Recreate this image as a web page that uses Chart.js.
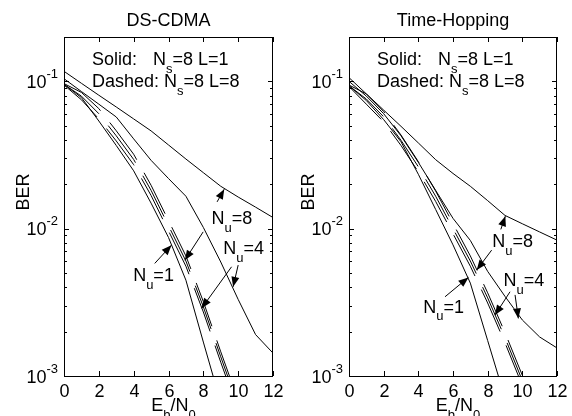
<!DOCTYPE html>
<html>
<head>
<meta charset="utf-8">
<script src="https://cdn.jsdelivr.net/npm/chart.js"></script>
<style>
  body { margin: 0; background: #fff; }
  #wrap { position: relative; width: 572px; height: 416px; background: #fff; }
  canvas { position: absolute; top: 0; }
</style>
</head>
<body>
<div id="wrap">
  <canvas id="dscdma" width="286" height="416" style="left:0px"></canvas>
  <canvas id="th" width="286" height="416" style="left:286px"></canvas>
</div>
<script>
// Eb/N0 grid (dB) and axis ticks
const ebn0 = [0, 1, 2, 3, 4, 5, 6, 7, 8, 9, 10, 11, 12];
const xTicks = [0, 2, 4, 6, 8, 10, 12];
const yDecades = [1e-3, 1e-2, 1e-1];
const yTickExp = ['-3', '-2', '-1'];

// DS-CDMA, solid = L=1, dashed = L=8
const dsNu8L1 = [0.117, 0.0970, 0.0805, 0.0670, 0.0556, 0.0461, 0.0370, 0.0297, 0.0240, 0.0194, 0.0164, 0.0140, 0.0119];
const dsNu4L1 = [0.1042, 0.0853, 0.0700, 0.0573, 0.0407, 0.0291, 0.0219, 0.0166, 0.0102, 0.00594, 0.00331, 0.00191, 0.00143];
const dsNu1L1 = [0.0955, 0.0776, 0.0538, 0.0367, 0.0247, 0.0149, 0.00871, 0.00447, 0.00170, 0.00066];
const dsNu1L8 = [0.0944, 0.0750, 0.0556, 0.0394, 0.0272, 0.0168, 0.00966, 0.00556, 0.00272, 0.00124, 0.000582];
const dsNu4L8 = [0.0955, 0.0794, 0.0603, 0.0427, 0.0295, 0.0182, 0.01047, 0.00603, 0.00295, 0.00135, 0.00063];
const dsNu8L8 = [0.0966, 0.0841, 0.0653, 0.0462, 0.0320, 0.0197, 0.01135, 0.00653, 0.00320, 0.00146, 0.000684];

// Time-Hopping
const thNu8L1 = [0.106, 0.0822, 0.0638, 0.0495, 0.0382, 0.0294, 0.0237, 0.0194, 0.0155, 0.0123, 0.0108, 0.0095, 0.00836];
const thNu4L1 = [0.100, 0.0794, 0.0603, 0.0427, 0.0282, 0.0182, 0.01175, 0.00832, 0.00513, 0.00347, 0.00240, 0.00184, 0.00155];
const thNu1L1 = [0.0933, 0.0741, 0.0550, 0.0389, 0.0234, 0.0135, 0.00776, 0.00427, 0.00174, 0.00071];
const thNu1L8 = [0.0923, 0.0700, 0.0531, 0.0367, 0.0243, 0.0153, 0.00923, 0.00556, 0.00313, 0.00168, 0.000861];
const thNu4L8 = [0.0933, 0.0759, 0.0575, 0.0398, 0.0263, 0.0166, 0.0100, 0.00603, 0.00339, 0.00182, 0.00093];
const thNu8L8 = [0.0944, 0.0822, 0.0624, 0.0432, 0.0285, 0.0180, 0.01084, 0.00653, 0.00367, 0.00197, 0.00101];

// annotation anchors in data units: [x, BER]
const dsLabels = [['8', 8.47, 0.01074], ['4', 9.14, 0.00671], ['1', 3.97, 0.00441]];
const dsArrows = [[8.79, 0.0152, 9.2, 0.01854], [7.99, 0.00951, 6.94, 0.00611],
                  [10.0, 0.00566, 9.71, 0.00403], [9.62, 0.00551, 7.9, 0.00288],
                  [5.21, 0.00581, 6.17, 0.00773]];
const thLabels = [['8', 8.27, 0.00746], ['4', 8.91, 0.00407], ['1', 4.29, 0.00269]];
const thArrows = [[8.76, 0.00989, 9.02, 0.01216], [8.23, 0.00715, 7.37, 0.00524],
                  [9.58, 0.00355, 9.77, 0.00246], [9.29, 0.00373, 8.42, 0.00259],
                  [5.54, 0.00345, 6.89, 0.00467]];

const FONT = '"Liberation Sans", Arial, Helvetica, sans-serif';

function pts(ys) {
  return ys.map((v, i) => ({ x: ebn0[i], y: v }));
}

function rich(ctx, parts, x, y, align) {
  let w = 0;
  parts.forEach(p => {
    ctx.font = (p[1] == 'n' ? 18 : 13) + 'px ' + FONT;
    w += ctx.measureText(p[0]).width;
  });
  if (align == 'center') x -= w / 2;
  else if (align == 'right') x -= w;
  parts.forEach(p => {
    ctx.font = (p[1] == 'n' ? 18 : 13) + 'px ' + FONT;
    let dy = p[1] == 'sub' ? 7.5 : (p[1] == 'sup' ? -10 : 0);
    ctx.fillText(p[0], x, y + dy);
    x += ctx.measureText(p[0]).width;
  });
}

function arrow(ctx, x0, y0, x1, y1) {
  ctx.beginPath();
  ctx.moveTo(x0, y0);
  ctx.lineTo(x1, y1);
  ctx.stroke();
  let a = Math.atan2(y1 - y0, x1 - x0), L = 10, W = 4;
  ctx.beginPath();
  ctx.moveTo(x1, y1);
  ctx.lineTo(x1 - L * Math.cos(a) + W * Math.sin(a), y1 - L * Math.sin(a) - W * Math.cos(a));
  ctx.lineTo(x1 - L * Math.cos(a) - W * Math.sin(a), y1 - L * Math.sin(a) + W * Math.cos(a));
  ctx.closePath();
  ctx.fill();
}

const frame = {
  id: 'frame',
  afterDraw(chart, args, opts) {
    const ctx = chart.ctx, ca = chart.chartArea;
    const xs = chart.scales.x, ys = chart.scales.y;
    ctx.save();
    ctx.strokeStyle = '#000';
    ctx.fillStyle = '#000';
    ctx.lineWidth = 1;
    ctx.setLineDash([]);
    ctx.textAlign = 'left';
    ctx.textBaseline = 'alphabetic';

    ctx.strokeRect(ca.left + 0.5, ca.top + 0.5, ca.right - ca.left - 1, ca.bottom - ca.top);

    // x ticks, inside, bottom and top
    xTicks.forEach(v => {
      let px = Math.round(xs.getPixelForValue(v)) + 0.5;
      ctx.beginPath();
      ctx.moveTo(px, ca.bottom); ctx.lineTo(px, ca.bottom - 5);
      ctx.moveTo(px, ca.top); ctx.lineTo(px, ca.top + 5);
      ctx.stroke();
      rich(ctx, [[String(v), 'n']], px, ca.bottom + 20.5, 'center');
    });

    // y ticks, log decades with minor ticks
    yDecades.forEach((d, k) => {
      for (let m = 1; m <= 9; m++) {
        let v = m * d;
        if (v > ys.max + 1e-12) break;
        let py = Math.round(ys.getPixelForValue(v)) + 0.5;
        let len = m == 1 ? 5 : 3;
        ctx.beginPath();
        ctx.moveTo(ca.left, py); ctx.lineTo(ca.left + len, py);
        ctx.moveTo(ca.right, py); ctx.lineTo(ca.right - len, py);
        ctx.stroke();
      }
      let py = ys.getPixelForValue(d);
      rich(ctx, [['10', 'n'], [yTickExp[k], 'sup']], ca.left - 6, py + 6.5, 'right');
    });

    const cx = (ca.left + ca.right) / 2;
    rich(ctx, [[opts.title, 'n']], cx, 26, 'center');
    rich(ctx, [['E', 'n'], ['b', 'sub'], ['/N', 'n'], ['0', 'sub']], cx + 5, ca.bottom + 35, 'center');

    ctx.save();
    ctx.translate(ca.left - 42, 192);
    ctx.rotate(-Math.PI / 2);
    rich(ctx, [['BER', 'n']], 0, 6.5, 'center');
    ctx.restore();

    rich(ctx, [['Solid:', 'n']], ca.left + 28, ca.top + 28);
    rich(ctx, [['N', 'n'], ['s', 'sub'], ['=8 L=1', 'n']], ca.left + 89, ca.top + 28);
    rich(ctx, [['Dashed: ', 'n'], ['N', 'n'], ['s', 'sub'], ['=8 L=8', 'n']], ca.left + 28, ca.top + 50);

    opts.labels.forEach(l => {
      rich(ctx, [['N', 'n'], ['u', 'sub'], ['=' + l[0], 'n']],
        xs.getPixelForValue(l[1]), ys.getPixelForValue(l[2]));
    });
    opts.arrows.forEach(a => {
      arrow(ctx, xs.getPixelForValue(a[0]), ys.getPixelForValue(a[1]),
        xs.getPixelForValue(a[2]), ys.getPixelForValue(a[3]));
    });
    ctx.restore();
  }
};

function makeChart(id, series, title, labels, arrows, padLeft, padRight) {
  const dash = [46, 15];
  const datasets = series.map(s => ({
    data: pts(s[0]),
    borderColor: '#000',
    borderWidth: 1,
    borderDash: s[1] ? dash : [],
    pointRadius: 0,
    tension: 0,
    fill: false
  }));
  return new Chart(document.getElementById(id), {
    type: 'line',
    data: { datasets: datasets },
    options: {
      responsive: false,
      animation: false,
      events: [],
      layout: { padding: { left: padLeft, right: padRight, top: 37, bottom: 40 } },
      plugins: {
        legend: { display: false },
        tooltip: { enabled: false },
        frame: { title: title, labels: labels, arrows: arrows }
      },
      scales: {
        x: { type: 'linear', min: 0, max: 12, display: false },
        y: { type: 'logarithmic', min: 0.001, max: 0.2, display: false }
      }
    },
    plugins: [frame]
  });
}

makeChart('dscdma',
  [[dsNu8L1, false], [dsNu4L1, false], [dsNu1L1, false],
   [dsNu1L8, true], [dsNu4L8, true], [dsNu8L8, true]],
  'DS-CDMA', dsLabels, dsArrows, 64, 13);

makeChart('th',
  [[thNu8L1, false], [thNu4L1, false], [thNu1L1, false],
   [thNu1L8, true], [thNu4L8, true], [thNu8L8, true]],
  'Time-Hopping', thLabels, thArrows, 63, 15);
</script>
</body>
</html>
